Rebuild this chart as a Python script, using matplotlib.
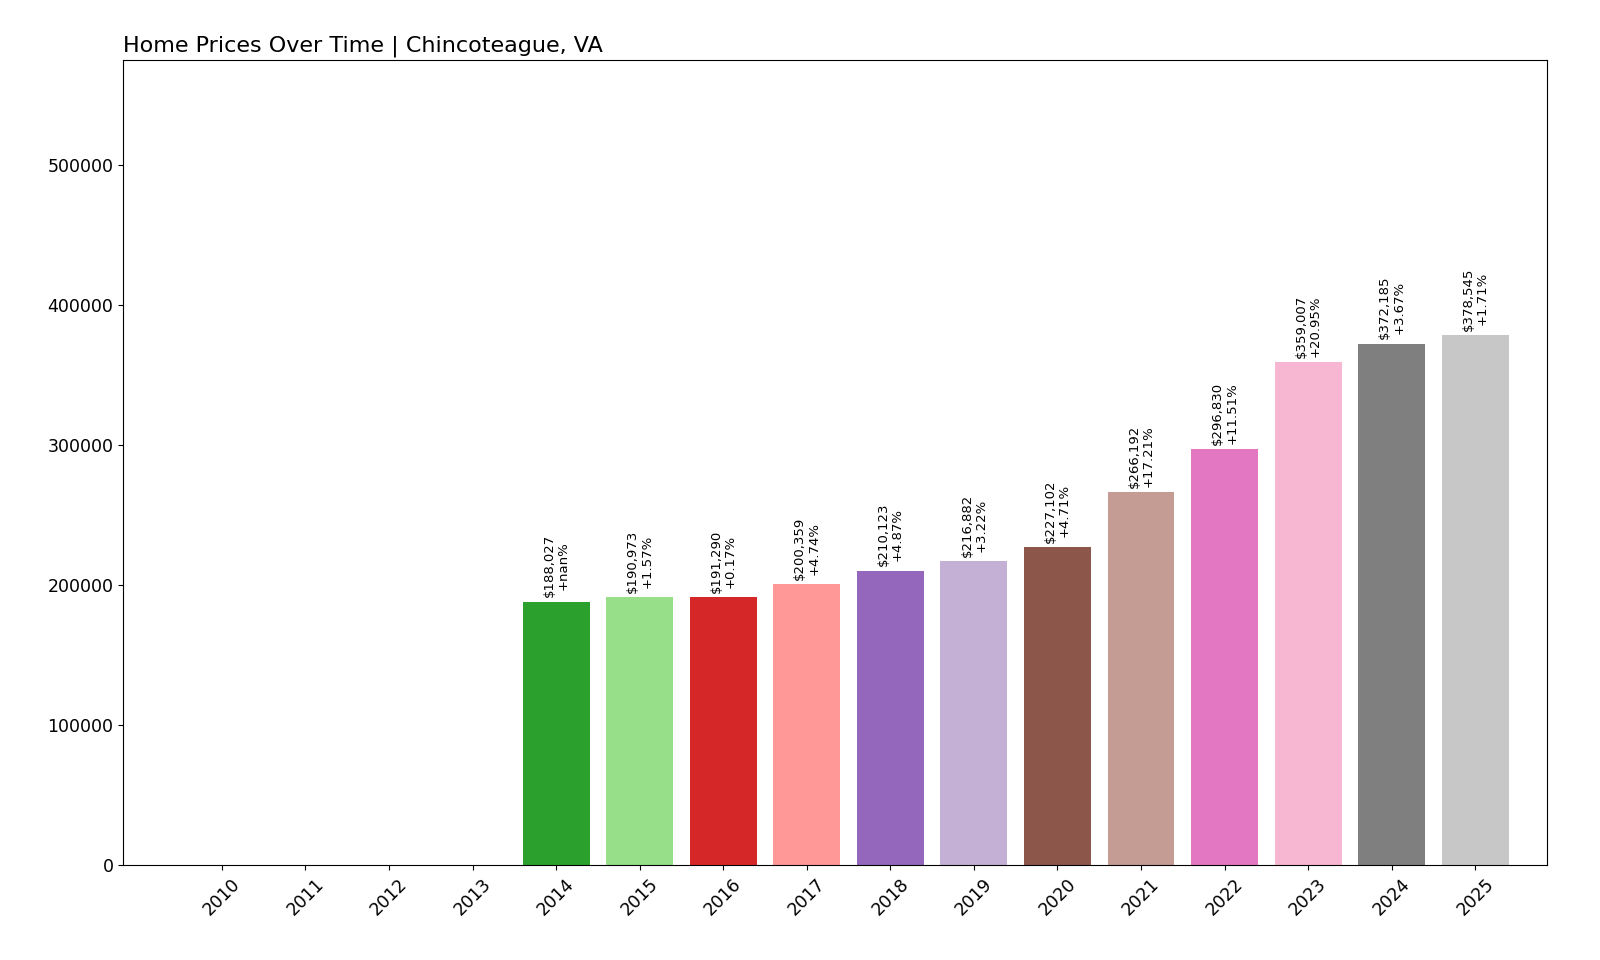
import matplotlib
matplotlib.use("Agg")
import matplotlib.pyplot as plt
import numpy as np

years = list(range(2010, 2026))
values = [0, 0, 0, 0, 188027, 190973, 191290, 200359, 210123, 216882, 227102,
          266192, 296830, 359007, 372185, 378545]
pct_labels = [None, None, None, None, "+nan%", "+1.57%", "+0.17%", "+4.74%", "+4.87%",
              "+3.22%", "+4.71%", "+17.21%", "+11.51%", "+20.95%", "+3.67%", "+1.71%"]

fig = plt.figure(figsize=(16, 9.6), dpi=100)
ax = fig.add_axes([0.077, 0.099, 0.890, 0.839])
colors = [plt.cm.tab20(i) for i in range(len(years))]
x = np.arange(len(years))
ax.bar(x, values, width=0.8, color=colors)
for xi, v, p in zip(x, values, pct_labels):
    if p is None:
        continue
    ax.text(xi, v + 3000, f"${v:,}\n{p}", rotation=90, ha="center", va="bottom",
            fontsize=9.5, linespacing=1.1)
ax.set_xticks(x)
ax.set_xticklabels([str(y) for y in years], rotation=45, fontsize=12.5)
ax.tick_params(axis="y", labelsize=12.5)
ax.set_xlim(-1.18, 15.86)
ax.set_ylim(0, 575000)
ax.set_yticks([0, 100000, 200000, 300000, 400000, 500000])
ax.set_title("Home Prices Over Time | Chincoteague, VA", loc="left", fontsize=16)
fig.savefig("out.png")
